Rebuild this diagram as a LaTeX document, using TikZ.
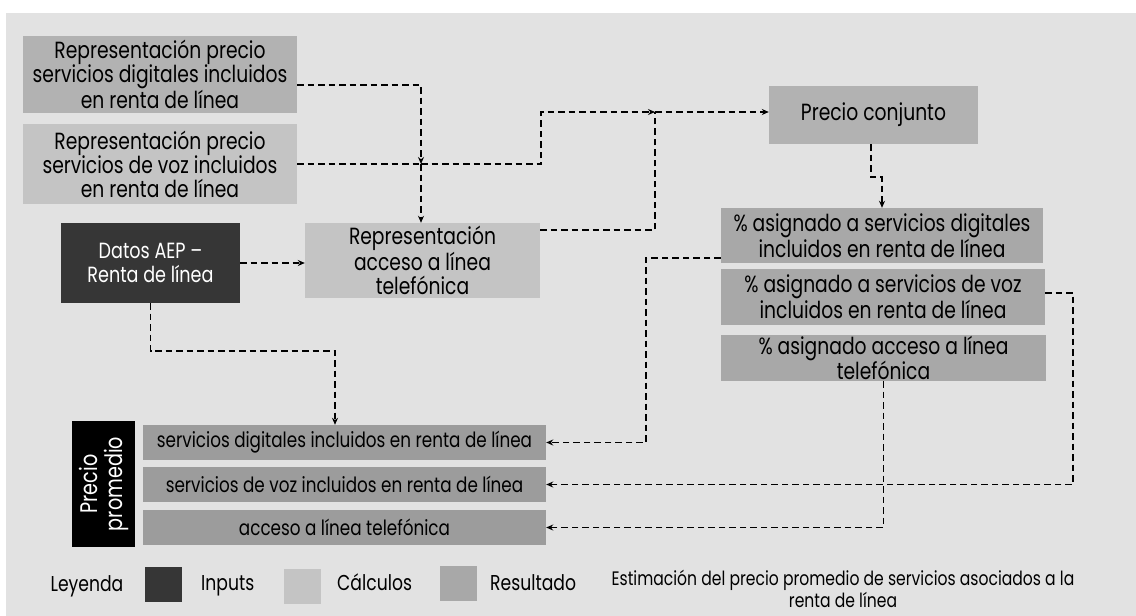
\documentclass[tikz,border=0pt]{standalone}
\usepackage{fontspec}
\setmainfont[FakeStretch=0.8]{Poppins}
\usetikzlibrary{arrows.meta}
\definecolor{bgc}{HTML}{E2E2E2}
\definecolor{calcA}{HTML}{B2B2B2}
\definecolor{calcB}{HTML}{C4C4C4}
\definecolor{resA}{HTML}{A8A8A8}
\definecolor{resB}{HTML}{9C9C9C}
\definecolor{inp}{HTML}{363636}
\newcommand\fs{\fontsize{23.4}{24}\selectfont}
\newcommand\fsr{\fontsize{21}{24}\selectfont}
\newcommand\fsl{\fontsize{21.5}{24}\selectfont}
\tikzset{
  box/.style={draw=none, align=center, inner sep=0pt, font=\fs},
  conn/.style={draw=black, line width=1.8pt, dash pattern=on 6.5pt off 4pt},
  arr/.style={-{Stealth[length=7pt,width=6pt]}},
  swatch/.style={draw=none, minimum width=37pt, minimum height=35pt, inner sep=0pt},
  lbl/.style={font=\fsl, inner sep=0pt}
}
\begin{document}
\begin{tikzpicture}[x=1pt,y=-1pt]
\useasboundingbox (0,0) rectangle (1136,616);
\fill[white] (0,0) rectangle (1136,616);
\fill[bgc] (6,13) rectangle (1136,616);

% boxes
\node[box, fill=calcA, minimum width=274pt, minimum height=77pt] (b1) at (160,74.5)
  {Representación precio\\servicios digitales incluidos\\en renta de línea};
\node[box, fill=calcB, minimum width=274pt, minimum height=80pt] (b2) at (160,164)
  {Representación precio\\servicios de voz incluidos\\en renta de línea};
\node[box, fill=inp, text=white, font=\fontsize{22}{24}\selectfont, minimum width=179pt, minimum height=80pt] (datos) at (150.5,263)
  {Datos AEP –\\Renta de línea};
\node[box, fill=calcB, minimum width=235pt, minimum height=75pt] (rep) at (422.5,260.5)
  {Representación\\acceso a línea\\telefónica};
\node[box, fill=calcA, minimum width=209pt, minimum height=58pt] (pc) at (873.5,115)
  {Precio conjunto};
\node[box, fill=resA, minimum width=322pt, minimum height=55pt] (pd) at (882,235.5)
  {\% asignado a servicios digitales\\incluidos en renta de línea};
\node[box, fill=resA, minimum width=324pt, minimum height=56pt] (pv) at (883,297)
  {\% asignado a servicios de voz\\incluidos en renta de línea};
\node[box, fill=resA, minimum width=325pt, minimum height=46pt] (pa) at (883.5,358)
  {\% asignado acceso a línea\\telefónica};
\node[box, fill=black, text=white, rotate=90, font=\fontsize{24}{25}\selectfont, minimum width=126pt, minimum height=63pt] (prom) at (103.5,484)
  {Precio\\promedio};
\node[box, fill=resB, font=\fsr, minimum width=403pt, minimum height=35pt] (r1) at (344.5,442.5)
  {servicios digitales incluidos en renta de línea};
\node[box, fill=resB, font=\fsr, minimum width=403pt, minimum height=35pt] (r2) at (344.5,484.5)
  {servicios de voz incluidos en renta de línea};
\node[box, fill=resB, font=\fsr, minimum width=403pt, minimum height=35pt] (r3) at (344.5,527.5)
  {acceso a línea telefónica};

% junction coordinates
\coordinate (j1) at (421,164);
\coordinate (k1) at (541,112);
\coordinate (j2) at (655,112);
\coordinate (c1) at (646,442.5);
\coordinate (c2) at (1073,484.5);
\coordinate (c3) at (335,351);
\coordinate (c4) at (871,177);

% connectors
\draw[conn,arr] ([yshift=-10.5pt]b1.east) -| (j1);
\draw[conn] (b2.east) -- (j1);
\draw[conn,arr] (j1) -- (j1 |- rep.north);
\draw[conn,arr] (j1) -| (k1) -- (j2);
\draw[conn] ([yshift=30.5pt]rep.east) -| (j2);
\draw[conn,arr] (j2) -- (j2 -| pc.west);
\draw[conn,arr] (c4 |- pc.south) -- (c4) -- (c4 -| pd.north) -- (pd.north);
\draw[conn,arr] (datos.east) -- (datos.east -| rep.west);
\draw[conn,arr] (datos.south) |- (c3) -- (c3 |- r1.north);
\draw[conn,arr] ([yshift=-22.5pt]pd.west) -| (c1) -- (r1.east);
\draw[conn,arr] ([yshift=4pt]pv.east) -| (c2) -- (r2.east);
\draw[conn,arr] (pa.south) |- (r3.east);

% legend
\node[lbl, anchor=base] (ley) at (87,591) {Leyenda};
\node[swatch, fill=inp] (sw1) at (163.5,584) {};
\node[lbl, anchor=base west] (t1) at (201,590) {Inputs};
\node[swatch, fill=calcB] (sw2) at (302,586) {};
\node[lbl, anchor=base west] (t2) at (337,590) {Cálculos};
\node[swatch, fill=resA] (sw3) at (458,583) {};
\node[lbl, anchor=base west] (t3) at (490,590) {Resultado};
\node[lbl, align=center, font=\fontsize{19.5}{19}\selectfont] (cap) at (843,589)
  {Estimación del precio promedio de servicios asociados a la\\renta de línea};
\end{tikzpicture}
\end{document}
